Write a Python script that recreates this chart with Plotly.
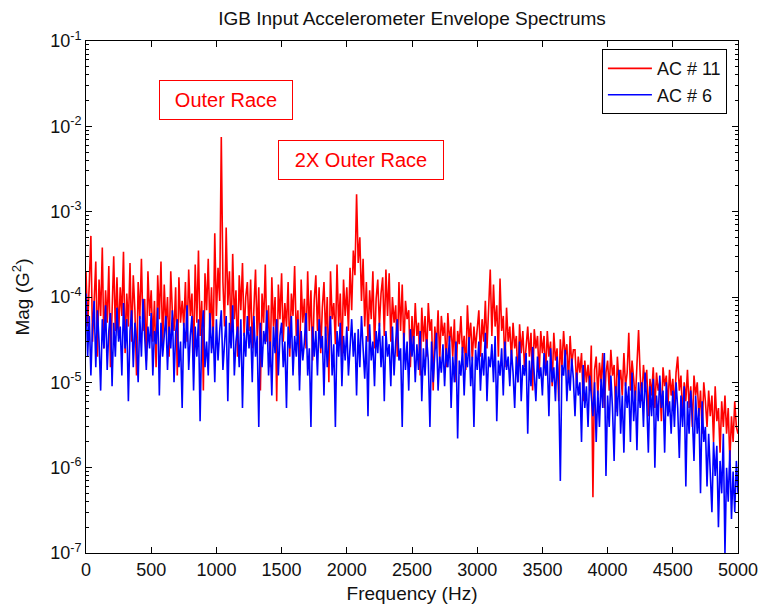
import plotly.graph_objects as go

# ---- data ----
freq_step_hz = 12.5  # spectral line spacing; bin k sits at k * 12.5 Hz

# AC # 11 magnitude, in micro-G^2 (1 = 1e-6 G^2)
ac11_uG2 = [
    200, 45, 140, 520, 30, 95, 260, 20, 160, 60, 380, 25, 120, 50, 230, 15, 90, 300, 40, 170,
    35, 130, 60, 340, 22, 110, 45, 250, 30, 180, 70, 12, 150, 55, 280, 40, 95, 18, 200, 60,
    120, 30, 90, 15, 180, 55, 260, 25, 140, 45, 100, 20, 200, 65, 40, 130, 12, 170, 50, 90,
    45, 150, 30, 210, 60, 110, 18, 240, 50, 350, 35, 90, 8, 190, 70, 280, 40, 130, 25, 560,
    60, 220, 90, 7500, 150, 45, 650, 80, 200, 30, 320, 55, 120, 20, 180, 70, 250, 35, 100, 150,
    40, 160, 25, 90, 210, 35, 130, 8, 110, 50, 240, 30, 80, 15, 170, 45, 100, 6, 140, 55,
    190, 30, 85, 45, 150, 20, 110, 60, 230, 35, 70, 12, 160, 50, 95, 25, 200, 40, 120, 18,
    90, 180, 40, 130, 22, 75, 150, 35, 100, 10, 200, 55, 85, 28, 240, 45, 110, 20, 160, 60,
    130, 40, 220, 70, 350, 180, 1600, 250, 500, 90, 280, 45, 150, 30, 120, 55, 200, 25, 95, 160,
    45, 110, 170, 35, 210, 60, 190, 30, 100, 50, 80, 20, 150, 40, 140, 25, 90, 55, 70, 15,
    60, 25, 85, 35, 50, 12, 75, 30, 60, 20, 85, 40, 55, 8, 45, 25, 70, 18, 60, 35,
    50, 15, 65, 30, 45, 20, 55, 10, 40, 28, 60, 22, 35, 14, 80, 30, 50, 18, 45, 25,
    40, 70, 20, 55, 30, 90, 25, 60, 210, 35, 140, 45, 80, 20, 165, 40, 60, 15, 75, 30,
    45, 18, 50, 25, 35, 10, 48, 22, 40, 15, 30, 45, 20, 38, 8, 42, 25, 35, 12, 40,
    22, 35, 12, 40, 20, 30, 9, 38, 18, 25, 6, 32, 15, 40, 20, 28, 10, 35, 16, 24,
    24, 9, 20, 13, 22, 6, 18, 10, 16, 8, 27, 0.45, 14, 20, 7, 17, 10, 22, 5, 13,
    18, 8, 24, 12, 16, 4.5, 20, 10, 14, 7, 22, 9, 13, 38, 8, 18, 11, 6, 16, 41,
    12, 6, 16, 9, 14, 4, 11, 7, 15, 5, 13, 8, 10, 3.5, 15, 9, 12, 5, 14, 7,
    11, 5, 13, 20, 8, 12, 4, 10, 6, 14, 5, 9, 3, 12, 7, 10, 4, 8, 2.5, 10,
    6, 3, 8, 4, 7, 2, 9, 3.5, 5, 1.5, 6, 3, 7, 2.5, 5, 1.2, 4, 2, 6, 3, 2.5,
]

# AC # 6 magnitude, in micro-G^2
ac6_uG2 = [
    110, 20, 60, 12, 45, 90, 15, 70, 30, 8, 55, 25, 80, 14, 40, 65, 9, 50, 20, 75,
    30, 45, 12, 85, 25, 55, 6, 40, 70, 15, 50, 30, 10, 60, 20, 95, 35, 14, 45, 25,
    65, 12, 40, 28, 75, 7, 50, 20, 35, 60, 14, 45, 25, 70, 10, 38, 55, 15, 30, 5,
    50, 25, 80, 14, 35, 60, 8, 45, 20, 55, 3.5, 40, 70, 15, 30, 12, 65, 22, 45, 10,
    55, 18, 40, 70, 14, 35, 60, 6, 50, 25, 80, 12, 30, 45, 15, 55, 5, 38, 20, 60,
    25, 45, 10, 60, 20, 35, 3, 50, 15, 40, 28, 70, 12, 30, 7, 45, 22, 55, 12, 35,
    50, 15, 30, 5, 45, 25, 60, 12, 35, 20, 55, 8, 40, 18, 30, 65, 12, 25, 3, 45,
    20, 40, 12, 55, 25, 35, 7, 45, 15, 30, 60, 12, 28, 3, 40, 20, 50, 9, 35, 18,
    45, 12, 30, 55, 20, 38, 7, 42, 15, 60, 25, 11, 35, 4, 48, 18, 30, 9, 40, 22,
    50, 15, 35, 6, 40, 20, 28, 9, 45, 12, 30, 55, 18, 25, 3, 38, 14, 30, 8, 42,
    20, 35, 10, 28, 14, 40, 6, 25, 12, 32, 18, 3, 30, 10, 22, 38, 8, 20, 13, 28,
    9, 25, 15, 35, 5, 20, 10, 30, 2.2, 18, 12, 26, 7, 22, 15, 34, 9, 20, 3, 24,
    14, 30, 8, 22, 12, 38, 6, 20, 15, 28, 10, 35, 3.5, 18, 12, 25, 7, 30, 14, 20,
    9, 24, 13, 5, 20, 10, 30, 6, 16, 12, 22, 2.5, 18, 9, 26, 14, 6, 20, 11, 15,
    7, 22, 12, 18, 4, 25, 10, 15, 6, 20, 9, 0.7, 16, 12, 24, 6, 14, 8, 19, 11,
    4, 13, 7, 10, 2, 16, 5, 9, 3, 12, 6, 4, 10, 2, 8, 3, 11, 5, 22, 0.8,
    7, 3, 12, 5, 1.2, 9, 4, 14, 2.5, 7, 1.5, 10, 5, 9, 2, 13, 3.5, 8, 1.6, 10,
    5, 10, 3, 13, 6, 1.5, 9, 4, 11, 1, 7, 3.5, 12, 5, 8, 1.5, 10, 4, 6, 2.5,
    8, 3, 10, 5, 1.3, 7, 3, 9, 0.6, 6, 2.5, 8, 4, 1.2, 7, 2.5, 5, 0.5, 6, 2,
    3, 0.6, 2.5, 1, 0.3, 2, 0.8, 1.8, 0.2, 1.2, 0.5, 2.5, 0.1, 1, 0.4, 1.6, 0.25, 0.9, 0.3, 1.2, 0.5,
]

series_names = ["AC # 11", "AC # 6"]
x_tick_values = [0, 500, 1000, 1500, 2000, 2500, 3000, 3500, 4000, 4500, 5000]
y_tick_exponents = [-7, -6, -5, -4, -3, -2, -1]
annotation_texts = ["Outer Race", "2X Outer Race"]

# ---- build ----
def to_g2(vals):
    return [v * 1e-6 for v in vals]

def bins(n):
    return [k * freq_step_hz for k in range(n)]

FONT = "Liberation Sans, Arial, sans-serif"
TXT = "#111111"

fig = go.Figure()
fig.add_trace(go.Scatter(x=bins(len(ac11_uG2)), y=to_g2(ac11_uG2), mode="lines",
                         name=series_names[0], line=dict(color="#ff0000", width=1.6)))
fig.add_trace(go.Scatter(x=bins(len(ac6_uG2)), y=to_g2(ac6_uG2), mode="lines",
                         name=series_names[1], line=dict(color="#0000ff", width=1.6)))

y_minor = [m * 10.0 ** e for e in y_tick_exponents[:-1] for m in range(2, 10)]

fig.update_layout(
    width=759, height=609,
    margin=dict(l=86, r=21, t=41, b=56),
    paper_bgcolor="white", plot_bgcolor="white",
    font=dict(family=FONT, size=18, color=TXT),
    title=dict(text="IGB Input Accelerometer Envelope Spectrums",
               x=(86 + 738) / 2 / 759, xanchor="center",
               y=1 - 18 / 609, yanchor="middle",
               font=dict(size=19, color=TXT, family=FONT)),
    showlegend=True,
    legend=dict(x=0.983, xanchor="right", y=0.984, yanchor="top",
                bordercolor="black", borderwidth=1, bgcolor="white",
                font=dict(size=18, color=TXT, family=FONT),
                tracegroupgap=0, itemwidth=44),
    xaxis=dict(range=[0, 5000], tickvals=x_tick_values, automargin=False,
               ticks="inside", ticklen=6, tickcolor="black", tickwidth=1,
               showline=True, linecolor="black", linewidth=1, mirror="ticks",
               showgrid=False, zeroline=False,
               tickfont=dict(size=18, color=TXT),
               title=dict(text="Frequency (Hz)", font=dict(size=19, color=TXT), standoff=8)),
    yaxis=dict(type="log", range=[-7, -1], automargin=False,
               tickvals=[10.0 ** e for e in y_tick_exponents],
               ticktext=["10<sup>%d</sup>" % e for e in y_tick_exponents],
               ticks="inside", ticklen=6, tickcolor="black", tickwidth=1,
               minor=dict(tickvals=y_minor, ticks="inside", ticklen=3,
                          tickcolor="black", tickwidth=1, showgrid=False),
               showline=True, linecolor="black", linewidth=1, mirror="ticks",
               showgrid=False, zeroline=False,
               tickfont=dict(size=18, color=TXT),
               title=dict(text="Mag (G<sup>2</sup>)", font=dict(size=19, color=TXT), standoff=15)),
)

fig.add_annotation(text=annotation_texts[0], xref="paper", yref="paper",
                   x=(226 - 86) / 652, y=(553 - 100) / 512, showarrow=False,
                   xanchor="center", yanchor="middle",
                   font=dict(size=20, color="#ff0000", family=FONT),
                   bordercolor="#ff0000", borderwidth=1, bgcolor="white",
                   width=130, height=36, borderpad=1)
fig.add_annotation(text=annotation_texts[1], xref="paper", yref="paper",
                   x=(361 - 86) / 652, y=(553 - 160) / 512, showarrow=False,
                   xanchor="center", yanchor="middle",
                   font=dict(size=20, color="#ff0000", family=FONT),
                   bordercolor="#ff0000", borderwidth=1, bgcolor="white",
                   width=162, height=36, borderpad=1)

fig.write_html("out.html", config={"displayModeBar": False})
